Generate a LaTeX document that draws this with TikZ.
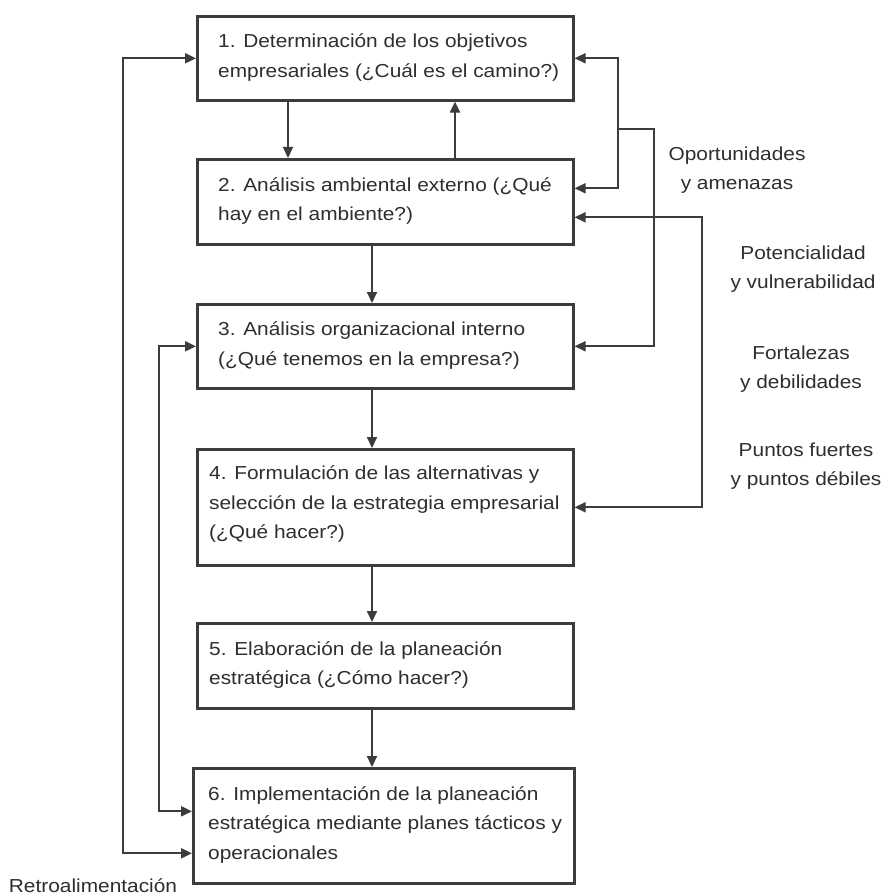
\documentclass[tikz,border=0pt]{standalone}
\usepackage{fontspec}
\setmainfont{Liberation Sans}[FakeStretch=1.11]
\usetikzlibrary{arrows.meta}
\definecolor{ink}{HTML}{2E2E2E}
\definecolor{linec}{HTML}{3C3C3C}
\begin{document}
\begin{tikzpicture}[x=1pt,y=-1pt,
  box/.style={draw=linec, line width=2.6pt, minimum width=376pt, anchor=north west, inner sep=0pt},
  txt/.style={align=left, anchor=west, inner sep=0pt, text=ink, font=\fontsize{18.8}{29.5}\selectfont},
  lbl/.style={align=center, inner sep=0pt, text=ink, font=\fontsize{18.8}{29.5}\selectfont},
  conn/.style={draw=linec, line width=2pt},
  tip/.style={-{Triangle[length=11pt,width=10pt]}},
  tips/.style={{Triangle[length=11pt,width=10pt]}-{Triangle[length=11pt,width=10pt]}}
]
\fill[white] (0,0) rectangle (884,896);
\useasboundingbox (0,0) rectangle (884,896);

% boxes
\node[box, minimum height=84pt] (b1) at (196,15) {};
\node[box, minimum height=85pt] (b2) at (196,158) {};
\node[box, minimum height=84pt] (b3) at (196,303) {};
\node[box, minimum height=116pt] (b4) at (196,448) {};
\node[box, minimum height=85pt] (b5) at (196,622) {};
\node[box, minimum height=115pt, minimum width=381pt] (b6) at (192,767) {};

% texts
\node[txt] (t1) at ([xshift=22pt,yshift=1pt]b1.west) {1. Determinación de los objetivos\\empresariales (¿Cuál es el camino?)};
\node[txt] (t2) at ([xshift=22pt,yshift=1pt]b2.west) {2. Análisis ambiental externo (¿Qué\\hay en el ambiente?)};
\node[txt] (t3) at ([xshift=22pt,yshift=1pt]b3.west) {3. Análisis organizacional interno\\(¿Qué tenemos en la empresa?)};
\node[txt] (t4) at ([xshift=13pt,yshift=3pt]b4.west) {4. Formulación de las alternativas y\\selección de la estrategia empresarial\\(¿Qué hacer?)};
\node[txt] (t5) at ([xshift=13pt,yshift=1pt]b5.west) {5. Elaboración de la planeación\\estratégica (¿Cómo hacer?)};
\node[txt] (t6) at ([xshift=16pt,yshift=1pt]b6.west) {6. Implementación de la planeación\\estratégica mediante planes tácticos y\\operacionales};

% side labels
\node[lbl] (oa) at (737,170) {Oportunidades\\y amenazas};
\node[lbl] (pv) at (803,269) {Potencialidad\\y vulnerabilidad};
\node[lbl] (fd) at (801,369) {Fortalezas\\y debilidades};
\node[lbl] (pf) at (806,466) {Puntos fuertes\\y puntos débiles};
\node[lbl] (rt) at (93,886) {Retroalimentación};

% helper coordinates
\coordinate (ca) at (288,0);
\coordinate (cb) at (455,0);
\coordinate (cx) at (372,0);
\coordinate (r1) at (618,0);
\coordinate (r1b) at (618,129);
\coordinate (r2) at (654,0);
\coordinate (r3) at (702,0);
\coordinate (l1) at (123,0);
\coordinate (l2) at (159,0);

% vertical flow
\draw[conn,tip] (b1.south -| ca) -- (b2.north -| ca);
\draw[conn,tip] (b2.north -| cb) -- (b1.south -| cb);
\draw[conn,tip] (b2.south -| cx) -- (b3.north -| cx);
\draw[conn,tip] (b3.south -| cx) -- (b4.north -| cx);
\draw[conn,tip] (b4.south -| cx) -- (b5.north -| cx);
\draw[conn,tip] (b5.south -| cx) -- (b6.north -| cx);

% right connectors
\draw[conn,tips] (b1.east) -| ([yshift=13.5pt]b2.east -| r1) -- ([yshift=13.5pt]b2.east);
\draw[conn,tip] (r1b) -| (r2 |- b3.east) -- (b3.east);
\draw[conn,tips] ([yshift=-15.5pt]b2.east) -| (r3 |- b4.east) -- (b4.east);

% left feedback
\draw[conn,tips] ([yshift=-27.5pt]b6.west) -| (l1 |- b1.west) -- (b1.west);
\draw[conn,tips] ([yshift=14.5pt]b6.west) -| (l2 |- b3.west) -- (b3.west);
\end{tikzpicture}
\end{document}
